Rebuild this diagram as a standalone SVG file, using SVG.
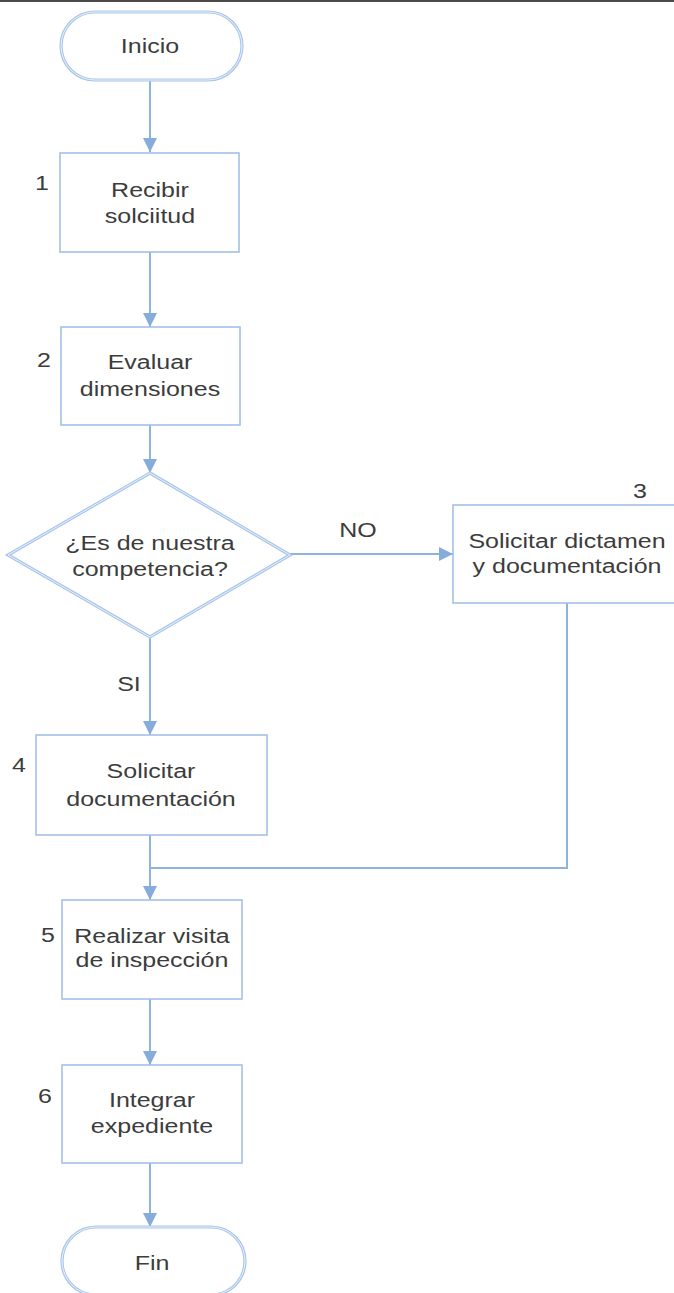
<svg xmlns="http://www.w3.org/2000/svg" width="674" height="1293" viewBox="0 0 674 1293">
<style>
  .t{font-family:"Liberation Sans",Arial,sans-serif;font-size:20px;fill:#3c3c3c;text-anchor:middle}
  .box{fill:#ffffff;stroke:#a3c1e6;stroke-width:1.6}
  .dbl{fill:#ffffff;stroke:#a9c6ea;stroke-width:3.2}
  .dblin{fill:none;stroke:#eef4fb;stroke-width:0.9}
  .conn{fill:none;stroke:#8fb3df;stroke-width:2}
</style>
<defs>
  <marker id="arr" markerUnits="userSpaceOnUse" markerWidth="14" markerHeight="16" refX="14" refY="7" orient="auto">
    <path d="M0,0 L14,7 L0,14 Z" fill="#86acdc"/>
  </marker>
</defs>
<rect x="0" y="0" width="674" height="1293" fill="#ffffff"/>
<rect x="0" y="0" width="674" height="2" fill="#4a4a4a"/>

<g id="connectors">
  <path class="conn" d="M150,80 V152" marker-end="url(#arr)"/>
  <path class="conn" d="M150,252 V327" marker-end="url(#arr)"/>
  <path class="conn" d="M150,425 V473" marker-end="url(#arr)"/>
  <path class="conn" d="M290,554 H453" marker-end="url(#arr)"/>
  <path class="conn" d="M150,637 V735" marker-end="url(#arr)"/>
  <path class="conn" d="M567,603 V868 H150"/>
  <path class="conn" d="M150,835 V900" marker-end="url(#arr)"/>
  <path class="conn" d="M150,999 V1065" marker-end="url(#arr)"/>
  <path class="conn" d="M150,1163 V1227" marker-end="url(#arr)"/>
  <text class="t" transform="translate(358,537) scale(1.25,1)">NO</text>
  <text class="t" transform="translate(129,691) scale(1.25,1)">SI</text>
</g>

<g id="inicio">
  <rect class="dbl" x="61" y="12" width="181" height="68" rx="34"/>
  <rect class="dblin" x="61" y="12" width="181" height="68" rx="34"/>
  <text class="t" transform="translate(150,53) scale(1.25,1)">Inicio</text>
</g>

<g id="n1">
  <rect class="box" x="60" y="153" width="179" height="99"/>
  <text class="t" transform="translate(42,190) scale(1.25,1)">1</text>
  <text class="t" transform="translate(150,197) scale(1.25,1)">Recibir</text>
  <text class="t" transform="translate(150,223) scale(1.25,1)">solciitud</text>
</g>

<g id="n2">
  <rect class="box" x="61" y="327" width="179" height="98"/>
  <text class="t" transform="translate(44,367) scale(1.25,1)">2</text>
  <text class="t" transform="translate(150,369) scale(1.25,1)">Evaluar</text>
  <text class="t" transform="translate(150,396) scale(1.25,1)">dimensiones</text>
</g>

<g id="decision">
  <polygon class="dbl" points="150,473 290,555 150,637 8,555"/>
  <polygon class="dblin" points="150,473 290,555 150,637 8,555"/>
  <text class="t" transform="translate(150,550) scale(1.25,1)">¿Es de nuestra</text>
  <text class="t" transform="translate(150,576) scale(1.25,1)">competencia?</text>
</g>

<g id="n3">
  <rect class="box" x="453" y="505" width="228" height="98"/>
  <text class="t" transform="translate(640,498) scale(1.25,1)">3</text>
  <text class="t" transform="translate(567,548) scale(1.25,1)">Solicitar dictamen</text>
  <text class="t" transform="translate(567,573) scale(1.25,1)">y documentación</text>
</g>

<g id="n4">
  <rect class="box" x="36" y="735" width="231" height="100"/>
  <text class="t" transform="translate(19,772) scale(1.25,1)">4</text>
  <text class="t" transform="translate(151,778) scale(1.25,1)">Solicitar</text>
  <text class="t" transform="translate(151,806) scale(1.25,1)">documentación</text>
</g>

<g id="n5">
  <rect class="box" x="62" y="900" width="180" height="99"/>
  <text class="t" transform="translate(48,942) scale(1.25,1)">5</text>
  <text class="t" transform="translate(152,943) scale(1.25,1)">Realizar visita</text>
  <text class="t" transform="translate(152,967) scale(1.25,1)">de inspección</text>
</g>

<g id="n6">
  <rect class="box" x="62" y="1065" width="180" height="98"/>
  <text class="t" transform="translate(45,1103) scale(1.25,1)">6</text>
  <text class="t" transform="translate(152,1107) scale(1.25,1)">Integrar</text>
  <text class="t" transform="translate(152,1133) scale(1.25,1)">expediente</text>
</g>

<g id="fin">
  <rect class="dbl" x="62" y="1227" width="183" height="68" rx="34"/>
  <rect class="dblin" x="62" y="1227" width="183" height="68" rx="34"/>
  <text class="t" transform="translate(152,1270) scale(1.25,1)">Fin</text>
</g>
</svg>
